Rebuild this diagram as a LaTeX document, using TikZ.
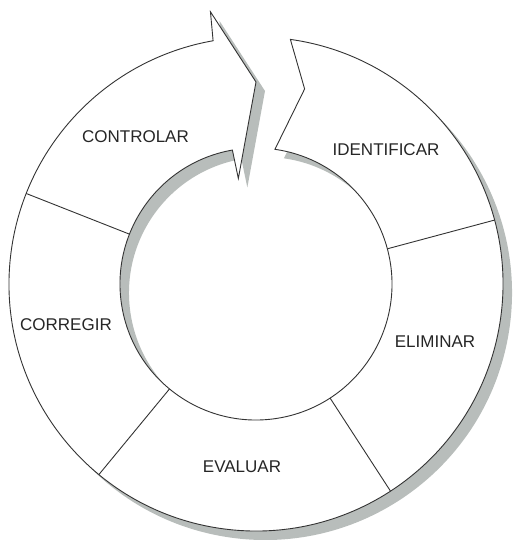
\documentclass[tikz,border=0pt]{standalone}
\usepackage{fontspec}
\setmainfont{Liberation Sans}
\definecolor{shadowgray}{RGB}{184,189,187}
\tikzset{ring/.style = {draw=black!80, line width=0.9pt, fill=white},
         dropshadow/.style = {fill=shadowgray, draw=none},
         divider/.style = {draw=black!80, line width=0.9pt},
         stage/.style = {font=\fontsize{17}{20}\selectfont, text=black!85},
}
% ring with arrow head at the top left and notch at the top right
\def\ringpath{(82:247) arc[start angle=82, end angle=-260, radius=247]
  -- (99.5:276) -- (90:202) -- (99.5:107) -- (100:136)
  arc[start angle=100, end angle=442, radius=136] -- (76:201) -- cycle}

\begin{document}
\begin{tikzpicture}[x=1pt, y=1pt]

  \useasboundingbox (-256,-256) rectangle (256,284);

  \fill[dropshadow, xshift=9pt, yshift=-9pt] \ringpath;
  \filldraw[ring] \ringpath;

  \foreach \a in {158.5, 15, -57, -129.5}
    \draw[divider] (\a:136) -- (\a:247);

  \node[stage] (controlar) at (-120.5,147) {CONTROLAR};
  \node[stage] (identificar) at (130,134) {IDENTIFICAR};
  \node[stage] (corregir) at (-190,-41) {CORREGIR};
  \node[stage] (eliminar) at (179,-58) {ELIMINAR};
  \node[stage] (evaluar) at (-14,-183) {EVALUAR};

\end{tikzpicture}
\end{document}
